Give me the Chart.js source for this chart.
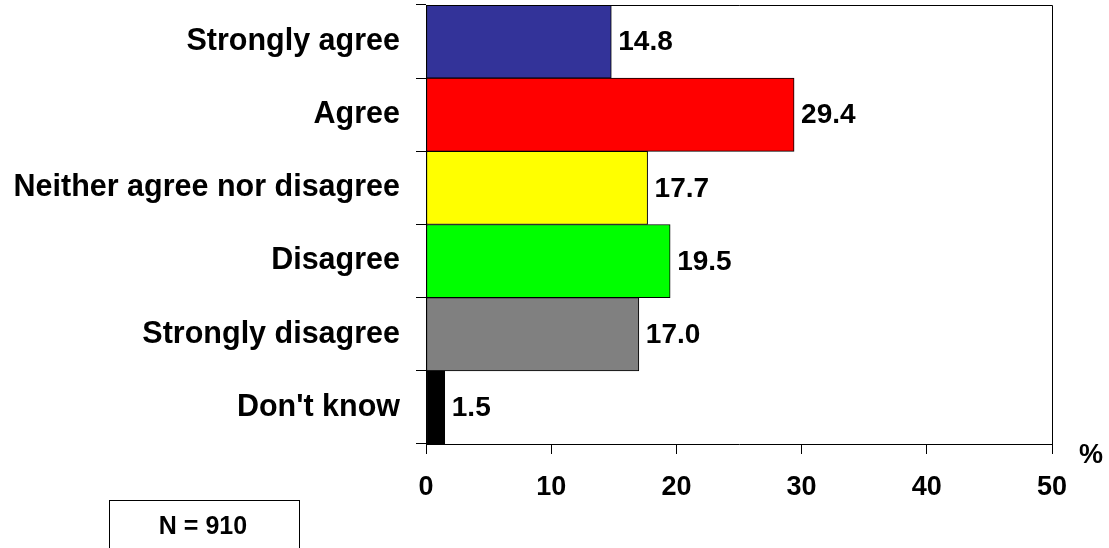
<!DOCTYPE html>
<html>
<head>
<meta charset="utf-8">
<script src="https://cdn.jsdelivr.net/npm/chart.js@4/dist/chart.umd.min.js"></script>
<style>
  html, body { margin: 0; padding: 0; background: #fff; }
  #wrap { width: 1109px; height: 548px; position: relative; }
</style>
</head>
<body>
<div id="wrap"><canvas id="chart" width="1109" height="548"></canvas></div>
<script>
// ===== Data =====
const categories = [
  "Strongly agree",
  "Agree",
  "Neither agree nor disagree",
  "Disagree",
  "Strongly disagree",
  "Don't know",
];
const values = [14.8, 29.4, 17.7, 19.5, 17.0, 1.5];
const barColors = ["#333399", "#FF0000", "#FFFF00", "#00FF00", "#808080", "#000000"];
const xTicks = [0, 10, 20, 30, 40, 50];
const unitLabel = "%";
const sampleNote = "N = 910";

const FONT = "'Liberation Sans', Arial, sans-serif";

// ===== Extras: frame, value labels, % and N box =====
const extrasPlugin = {
  id: "extras",
  afterDatasetsDraw(chart) {
    const { ctx, chartArea: a } = chart;
    ctx.save();
    // frame top + right
    ctx.strokeStyle = "#000";
    ctx.lineWidth = 1;
    ctx.beginPath();
    ctx.moveTo(a.left, a.top + 0.5);
    ctx.lineTo(a.right + 0.5, a.top + 0.5);
    ctx.lineTo(a.right + 0.5, a.bottom);
    ctx.stroke();

    // value labels
    const meta = chart.getDatasetMeta(0);
    ctx.fillStyle = "#000";
    ctx.font = `bold 28px ${FONT}`;
    ctx.textAlign = "left";
    ctx.textBaseline = "middle";
    meta.data.forEach((bar, i) => {
      ctx.fillText(values[i].toFixed(1), bar.x + 7, bar.y + 1);
    });

    // unit label
    ctx.font = `bold 27px ${FONT}`;
    ctx.textAlign = "center";
    ctx.fillText(unitLabel, 1091, 456);

    // N box
    ctx.lineWidth = 1;
    ctx.strokeRect(109.5, 500.5, 190, 60);
    ctx.font = `bold 25px ${FONT}`;
    ctx.fillText(sampleNote, 203, 527);
    ctx.restore();
  },
};

const ctx = document.getElementById("chart").getContext("2d");
new Chart(ctx, {
  type: "bar",
  data: {
    labels: categories,
    datasets: [
      {
        data: values,
        backgroundColor: barColors,
        borderColor: "#000",
        borderWidth: 1,
        borderSkipped: false,
        categoryPercentage: 1,
        barPercentage: 1,
      },
    ],
  },
  options: {
    indexAxis: "y",
    responsive: false,
    animation: false,
    devicePixelRatio: 1,
    layout: { padding: { top: 5, right: 57, left: 0, bottom: 0 } },
    plugins: {
      legend: { display: false },
      tooltip: { enabled: false },
    },
    scales: {
      x: {
        min: 0,
        max: 50,
        afterBuildTicks(axis) {
          axis.ticks = xTicks.map((v) => ({ value: v }));
        },
        afterFit(axis) {
          axis.height = 104;
          axis.paddingLeft = 0;
          axis.paddingRight = 0;
        },
        grid: {
          drawOnChartArea: false,
          drawTicks: true,
          tickLength: 10,
          color: "#000",
        },
        border: { color: "#000", width: 1 },
        ticks: {
          color: "#000",
          padding: 17,
          font: { family: FONT, size: 27, weight: "bold" },
        },
      },
      y: {
        afterFit(axis) {
          axis.width = 426;
          axis.paddingTop = 0;
          axis.paddingBottom = 0;
        },
        grid: {
          offset: true,
          drawOnChartArea: false,
          drawTicks: true,
          tickLength: 10,
          color: "#000",
        },
        border: { color: "#000", width: 1 },
        ticks: {
          color: "#000",
          padding: 16,
          font: { family: FONT, size: 30.5, weight: "bold" },
        },
      },
    },
  },
  plugins: [extrasPlugin],
});
</script>
</body>
</html>
